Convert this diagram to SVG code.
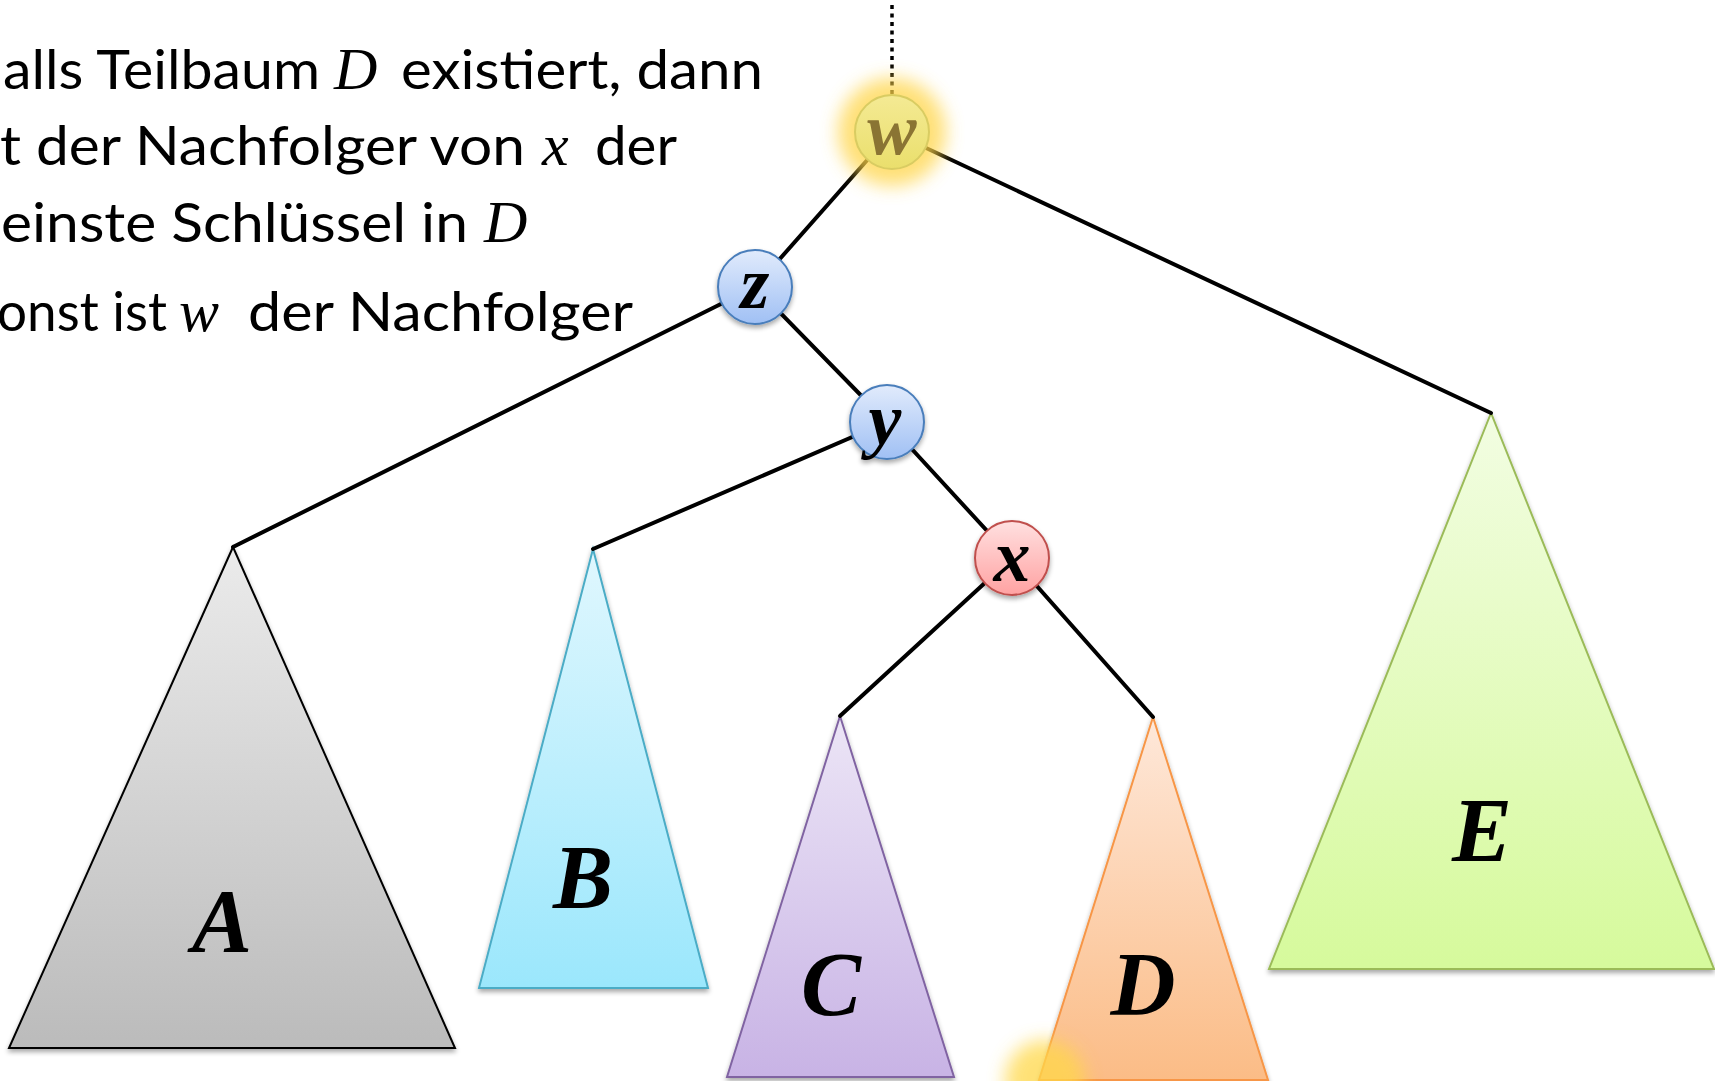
<svg xmlns="http://www.w3.org/2000/svg" width="1715" height="1081" viewBox="0 0 1715 1081">
  <style>
    .txt { font-family: Lato, "Open Sans", sans-serif; font-size: 54px; fill: #000; }
    .math { font-family: "Liberation Serif", "DejaVu Serif", serif; font-style: italic; font-size: 60px; fill: #000; }
    .edge { stroke: #000; stroke-width: 4; fill: none; stroke-linecap: round; }
    .nlabel { font-family: "Liberation Serif", "DejaVu Serif", serif; font-style: italic; font-weight: bold; font-size: 74px; text-anchor: middle; fill: #000; }
    .tlabel { font-family: "Liberation Serif", "DejaVu Serif", serif; font-style: italic; font-weight: bold; font-size: 90px; text-anchor: middle; fill: #000; }
    .tri { stroke-width: 2; stroke-linejoin: miter; }
  </style>
  <defs>
    <linearGradient id="gA" x1="0" y1="0" x2="0" y2="1"><stop offset="0" stop-color="#EBEBEB"/><stop offset="1" stop-color="#BBBBBB"/></linearGradient>
    <linearGradient id="gB" x1="0" y1="0" x2="0" y2="1"><stop offset="0" stop-color="#E0F7FE"/><stop offset="1" stop-color="#9BE7FC"/></linearGradient>
    <linearGradient id="gC" x1="0" y1="0" x2="0" y2="1"><stop offset="0" stop-color="#ECE5F6"/><stop offset="1" stop-color="#C8B3E5"/></linearGradient>
    <linearGradient id="gD" x1="0" y1="0" x2="0" y2="1"><stop offset="0" stop-color="#FEE8DA"/><stop offset="1" stop-color="#FBBC86"/></linearGradient>
    <linearGradient id="gE" x1="0" y1="0" x2="0" y2="1"><stop offset="0" stop-color="#F2FDE2"/><stop offset="1" stop-color="#D6FA9C"/></linearGradient>
    <linearGradient id="gBlue" x1="0" y1="0" x2="0" y2="1"><stop offset="0" stop-color="#E1EBFC"/><stop offset="1" stop-color="#A0C0F4"/></linearGradient>
    <linearGradient id="gRed" x1="0" y1="0" x2="0" y2="1"><stop offset="0" stop-color="#FFE0E0"/><stop offset="1" stop-color="#FFA2A2"/></linearGradient>
    <linearGradient id="gYel" x1="0" y1="0" x2="0" y2="1"><stop offset="0" stop-color="#F4EA94"/><stop offset="1" stop-color="#EADF6C"/></linearGradient>
    <filter id="shadow" x="-20%" y="-20%" width="140%" height="150%">
      <feGaussianBlur in="SourceAlpha" stdDeviation="2.5"/>
      <feOffset dx="0" dy="3" result="b"/>
      <feComponentTransfer><feFuncA type="linear" slope="0.35"/></feComponentTransfer>
      <feMerge><feMergeNode/><feMergeNode in="SourceGraphic"/></feMerge>
    </filter>
    <filter id="glow" x="-60%" y="-60%" width="220%" height="220%">
      <feGaussianBlur stdDeviation="9"/>
    </filter>
  </defs>

  <rect width="1715" height="1081" fill="#fff"/>

  <!-- explanatory text, cut at the left border -->
  <g id="caption">
    <text class="txt" x="3" y="89" textLength="317" lengthAdjust="spacingAndGlyphs">alls Teilbaum</text>
    <text class="math" x="334" y="89">D</text>
    <text class="txt" x="401" y="89" textLength="362" lengthAdjust="spacingAndGlyphs">existiert, dann</text>

    <text class="txt" x="0" y="165" textLength="525" lengthAdjust="spacingAndGlyphs">t der Nachfolger von</text>
    <text class="math" x="542" y="165">x</text>
    <text class="txt" x="595" y="165" textLength="82" lengthAdjust="spacingAndGlyphs">der</text>

    <text class="txt" x="1" y="242" textLength="467" lengthAdjust="spacingAndGlyphs">einste Schlüssel in</text>
    <text class="math" x="484" y="242">D</text>

    <text class="txt" x="-3" y="331" textLength="170" lengthAdjust="spacingAndGlyphs">onst ist</text>
    <text class="math" x="179" y="331">w</text>
    <text class="txt" x="248" y="331" textLength="385" lengthAdjust="spacingAndGlyphs">der Nachfolger</text>
  </g>

  <!-- subtrees -->
  <g id="tree-A" filter="url(#shadow)">
    <polygon class="tri" points="233,547 9,1048 455,1048" fill="url(#gA)" stroke="#000"/>
    <text class="tlabel" x="222" y="952">A</text>
  </g>
  <g id="tree-B" filter="url(#shadow)">
    <polygon class="tri" points="593,549 479,988 708,988" fill="url(#gB)" stroke="#4BACC6"/>
    <text class="tlabel" x="583" y="908">B</text>
  </g>
  <g id="tree-C" filter="url(#shadow)">
    <polygon class="tri" points="840,716 727,1077 954,1077" fill="url(#gC)" stroke="#8064A2"/>
    <text class="tlabel" x="831" y="1015">C</text>
  </g>
  <g id="tree-D" filter="url(#shadow)">
    <polygon class="tri" points="1153,717 1039,1080 1268,1080" fill="url(#gD)" stroke="#F79646"/>
    <text class="tlabel" x="1143" y="1015">D</text>
  </g>
  <g id="tree-E" filter="url(#shadow)">
    <polygon class="tri" points="1491,413 1269,969 1714,969" fill="url(#gE)" stroke="#9BBB59"/>
    <text class="tlabel" x="1482" y="861">E</text>
  </g>

  <!-- glowing spot at the bottom of D -->
  <circle id="glow-spot" cx="1045" cy="1080" r="40" fill="#FFD84A" opacity="0.75" filter="url(#glow)"/>

  <!-- connectors -->
  <g id="edges">
    <line x1="892" y1="5" x2="892" y2="100" stroke="#000" stroke-width="3.5" stroke-dasharray="4 4.5"/>
    <line class="edge" x1="892" y1="132" x2="755" y2="287"/>
    <line class="edge" x1="892" y1="132" x2="1491" y2="413"/>
    <line class="edge" x1="755" y1="287" x2="233" y2="547"/>
    <line class="edge" x1="755" y1="287" x2="887" y2="422"/>
    <line class="edge" x1="887" y1="422" x2="593" y2="549"/>
    <line class="edge" x1="887" y1="422" x2="1012" y2="558"/>
    <line class="edge" x1="1012" y1="558" x2="840" y2="716"/>
    <line class="edge" x1="1012" y1="558" x2="1153" y2="717"/>
  </g>

  <!-- nodes -->
  <g id="node-w">
    <circle cx="892" cy="132" r="54" fill="#FFD54A" opacity="0.75" filter="url(#glow)"/>
    <circle cx="892" cy="132" r="37" fill="url(#gYel)" stroke="#D9CC62" stroke-width="2"/>
    <text class="nlabel" x="892" y="154" style="fill:#8A7433">w</text>
  </g>
  <g id="node-z" filter="url(#shadow)">
    <circle cx="755" cy="287" r="37" fill="url(#gBlue)" stroke="#4A7EBB" stroke-width="2"/>
    <text class="nlabel" x="755" y="308">z</text>
  </g>
  <g id="node-y" filter="url(#shadow)">
    <circle cx="887" cy="422" r="37" fill="url(#gBlue)" stroke="#4A7EBB" stroke-width="2"/>
    <text class="nlabel" x="885" y="444">y</text>
  </g>
  <g id="node-x" filter="url(#shadow)">
    <circle cx="1012" cy="558" r="37" fill="url(#gRed)" stroke="#C0504D" stroke-width="2"/>
    <text class="nlabel" x="1012" y="581">x</text>
  </g>
</svg>
